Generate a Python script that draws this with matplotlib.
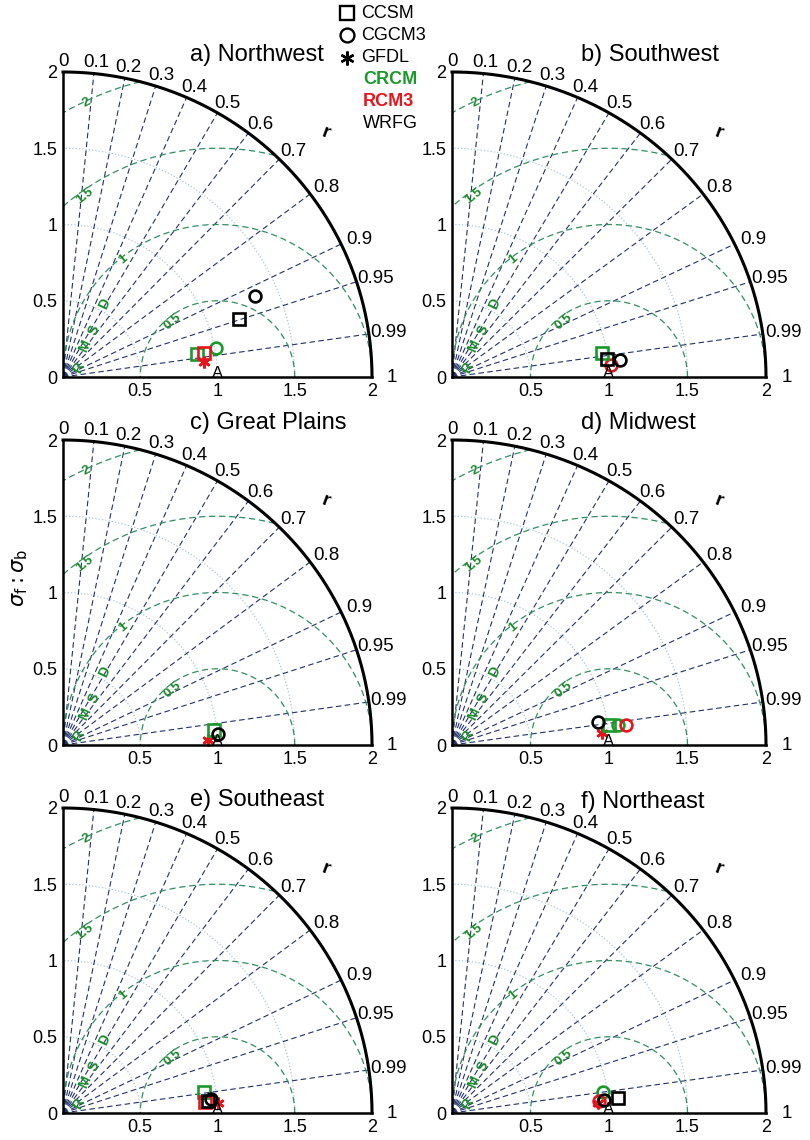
import numpy as np
import matplotlib
matplotlib.use("Agg")
import matplotlib.pyplot as plt
from matplotlib.lines import Line2D

plt.rcParams['font.family'] = ['Liberation Sans', 'DejaVu Sans']

# panel titles
titles = ["a) Northwest", "b) Southwest", "c) Great Plains",
          "d) Midwest", "e) Southeast", "f) Northeast"]

# correlation labels on the outer arc
corr_ticks = [0, 0.1, 0.2, 0.3, 0.4, 0.5, 0.6, 0.7, 0.8, 0.9, 0.95, 0.99, 1]
corr_labels = ["0", "0.1", "0.2", "0.3", "0.4", "0.5", "0.6", "0.7", "0.8",
               "0.9", "0.95", "0.99", "1"]
rmsd_levels = [0.5, 1.0, 1.5, 2.0]
std_levels = [0.5, 1.0, 1.5]

# legend
gcm_names = ["CCSM", "CGCM3", "GFDL"]
gcm_markers = ["s", "o", (6, 2, 0)]
rcm_names = ["CRCM", "RCM3", "WRFG"]
rcm_colors = ["#1a9a2a", "#e8141c", "black"]

# points per panel: (gcm index, rcm index, sigma ratio x, sigma ratio y)
points = [
    [(0, 2, 1.14, 0.38), (1, 2, 1.24, 0.53), (0, 0, 0.87, 0.15),
     (1, 0, 0.99, 0.19), (0, 1, 0.91, 0.16), (2, 1, 0.91, 0.10)],
    [(1, 1, 1.01, 0.08), (0, 0, 0.955, 0.16), (0, 2, 0.99, 0.12),
     (1, 2, 1.07, 0.11)],
    [(2, 1, 0.94, 0.03), (0, 0, 0.98, 0.10), (1, 2, 1.00, 0.07)],
    [(2, 1, 0.955, 0.08), (0, 0, 1.00, 0.13), (1, 0, 1.06, 0.13),
     (1, 1, 1.11, 0.13), (1, 2, 0.93, 0.15)],
    [(0, 0, 0.91, 0.14), (2, 1, 1.00, 0.065), (0, 1, 0.92, 0.07),
     (0, 2, 0.94, 0.08), (1, 2, 0.96, 0.09)],
    [(1, 0, 0.96, 0.14), (1, 1, 0.935, 0.08), (2, 1, 0.93, 0.065),
     (1, 2, 0.97, 0.085), (0, 2, 1.06, 0.10)],
]

W, H = 810, 1140
col_x = [63, 452]
col_w = [309, 314]
row_y = [377, 745, 1113]
row_h = 305
title_y = [2.11, 2.11, 2.11, 2.11, 2.05, 2.04]

navy = "#22306a"
rgreen = "#2f8f5f"
lgreen = "#1a8a2a"
dotc = "#a9c6d6"


def taylor(ax, title, pts, ty):
    ax.set_xlim(0, 2)
    ax.set_ylim(0, 2)
    for s in ["top", "right"]:
        ax.spines[s].set_visible(False)
    for s in ["left", "bottom"]:
        ax.spines[s].set_linewidth(1.8)
    ax.set_xticks([0.5, 1, 1.5, 2])
    ax.set_xticklabels(["0.5", "1", "1.5", "2"])
    ax.set_yticks([0, 0.5, 1, 1.5, 2])
    ax.set_yticklabels(["0", "0.5", "1", "1.5", "2"])
    ax.tick_params(length=0, labelsize=13, pad=4)

    t = np.linspace(0, np.pi / 2, 300)
    # std circles
    for s in std_levels:
        ax.plot(s * np.cos(t), s * np.sin(t), ls=":", color=dotc, lw=0.9)
    # correlation lines
    for c in corr_ticks[1:-1]:
        a = np.arccos(c)
        ax.plot([0, 2 * np.cos(a)], [0, 2 * np.sin(a)], ls=(0, (5, 3)),
                color=navy, lw=0.8)
    # rmsd circles
    tt = np.linspace(0, np.pi, 800)
    for R in rmsd_levels:
        x = 1 + R * np.cos(tt)
        y = R * np.sin(tt)
        m = (x >= 0) & (x ** 2 + y ** 2 <= 4.0)
        ax.plot(x[m], y[m], ls=(0, (5, 3)), color=rgreen, lw=0.9)
    # outer arc
    ax.plot(2 * np.cos(t), 2 * np.sin(t), color="black", lw=2.2, clip_on=False)

    for c, lab in zip(corr_ticks, corr_labels):
        a = np.arccos(c)
        ax.text(2.08 * np.cos(a) + 0.05 * c, 2.07 * np.sin(a), lab,
                fontsize=13.5, ha="center", va="center", clip_on=False)

    ax.text(1.70, 1.60, "r", fontsize=14, fontweight="bold", rotation=-20,
            ha="center", va="center", clip_on=False)

    # rmsd labels
    rl = [("0.5", 0.71, 0.36, 40), ("1", 0.39, 0.77, 40),
          ("1.5", 0.14, 1.19, 38), ("2", 0.15, 1.80, 28)]
    for lab, x, y, rot in rl:
        ax.text(x, y, lab, color=lgreen, fontsize=9.5, fontweight="bold",
                rotation=rot, ha="center", va="center")
    for lab, x, y in [("R", 0.10, 0.06), ("M", 0.14, 0.20),
                      ("S", 0.20, 0.31), ("D", 0.27, 0.48)]:
        ax.text(x, y, lab, color=lgreen, fontsize=10, fontweight="bold",
                rotation=65, ha="center", va="center")

    ax.text(1.0, 0.02, "A", fontsize=12, ha="center", va="center")

    for g, r, x, y in pts:
        ax.plot(x, y, marker=gcm_markers[g], ms=8.5, mfc="none",
                mec=rcm_colors[r], mew=1.9, ls="none", clip_on=False)

    ax.text(0.82, ty, title, fontsize=17, ha="left", va="center")


fig = plt.figure(figsize=(W / 100, H / 100), dpi=100)
for i in range(6):
    r, c = divmod(i, 2)
    left = col_x[c] / W
    bottom = 1 - row_y[r] / H
    ax = fig.add_axes([left, bottom, col_w[c] / W, row_h / H])
    ax.patch.set_alpha(0)
    taylor(ax, titles[i], points[i], title_y[i])

# legend at top
leg_y = [13, 35, 58]
for i in range(3):
    fig.add_artist(Line2D([347 / W], [1 - leg_y[i] / H], marker=gcm_markers[i],
                          ms=10, mfc="none", mec="black", mew=1.7,
                          transform=fig.transFigure))
    fig.text(361 / W, 1 - leg_y[i] / H, gcm_names[i], fontsize=13,
             ha="left", va="center")
leg_y2 = [80, 101, 123]
weights = ["bold", "bold", "normal"]
for i in range(3):
    fig.text(363 / W, 1 - leg_y2[i] / H, rcm_names[i], fontsize=13,
             color=rcm_colors[i], fontweight=weights[i], ha="left", va="center")

fig.text(20 / W, 1 - 578 / H, r"$\sigma_{\rm f} : \sigma_{\rm b}$", fontsize=15,
         rotation=90, ha="center", va="center")

fig.savefig("out.png", dpi=100)
